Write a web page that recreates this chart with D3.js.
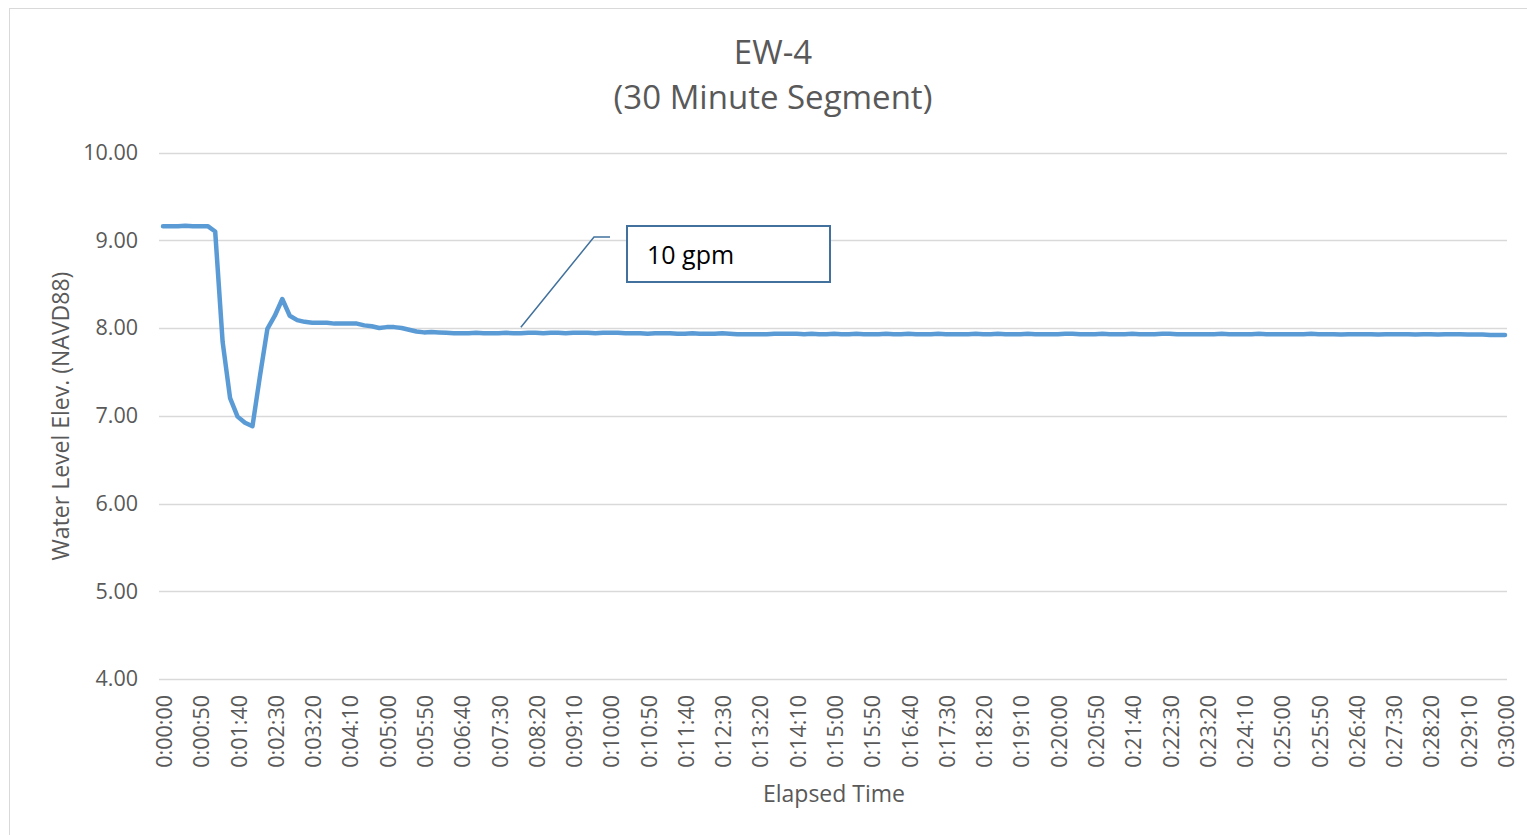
<!DOCTYPE html>
<html>
<head>
<meta charset="utf-8">
<script src="https://cdn.jsdelivr.net/npm/d3@7"></script>
<style>
  body { margin: 0; background: #fff; }
  svg { display: block; font-family: "Open Sans", sans-serif; }
  .ejes text { fill: #595959; }
</style>
</head>
<body>
<div id="graf"></div>
<script>
// categorias del eje x (tiempo transcurrido, cada 10 s) y etiquetas visibles
const tickLabels = [
  "0:00:00", "0:00:50", "0:01:40", "0:02:30", "0:03:20", "0:04:10", "0:05:00",
  "0:05:50", "0:06:40", "0:07:30", "0:08:20", "0:09:10", "0:10:00", "0:10:50",
  "0:11:40", "0:12:30", "0:13:20", "0:14:10", "0:15:00", "0:15:50", "0:16:40",
  "0:17:30", "0:18:20", "0:19:10", "0:20:00", "0:20:50", "0:21:40", "0:22:30",
  "0:23:20", "0:24:10", "0:25:00", "0:25:50", "0:26:40", "0:27:30", "0:28:20",
  "0:29:10", "0:30:00"
]
const yTicks = [4, 5, 6, 7, 8, 9, 10]

// nivel de agua (NAVD88), un valor cada 10 s
const nivel = [
  9.16, 9.16, 9.16, 9.165, 9.16, 9.16, 9.16, 9.10, 7.84, 7.20,
  6.99, 6.92, 6.88, 7.45, 7.99, 8.14, 8.33, 8.14, 8.09, 8.07,
  8.06, 8.06, 8.06, 8.05, 8.05, 8.05, 8.05, 8.03, 8.02, 8.00,
  8.01, 8.01, 8.00, 7.98, 7.96, 7.95, 7.955, 7.95, 7.945, 7.94,
  7.94, 7.94, 7.945, 7.94, 7.94, 7.94, 7.945, 7.94, 7.94, 7.945,
  7.945, 7.94, 7.945, 7.945, 7.94, 7.945, 7.945, 7.945, 7.94, 7.945,
  7.945, 7.945, 7.94, 7.94, 7.94, 7.935, 7.94, 7.94, 7.94, 7.935,
  7.935, 7.94, 7.935, 7.935, 7.935, 7.94, 7.935, 7.93, 7.93, 7.93,
  7.93, 7.93, 7.935, 7.935, 7.935, 7.935, 7.93, 7.935, 7.93, 7.93,
  7.935, 7.93, 7.93, 7.935, 7.93, 7.93, 7.93, 7.935, 7.93, 7.93,
  7.935, 7.93, 7.93, 7.93, 7.935, 7.93, 7.93, 7.93, 7.93, 7.935,
  7.93, 7.93, 7.935, 7.93, 7.93, 7.93, 7.935, 7.93, 7.93, 7.93,
  7.93, 7.935, 7.935, 7.93, 7.93, 7.93, 7.935, 7.93, 7.93, 7.93,
  7.935, 7.93, 7.93, 7.93, 7.935, 7.935, 7.93, 7.93, 7.93, 7.93,
  7.93, 7.93, 7.935, 7.93, 7.93, 7.93, 7.93, 7.935, 7.93, 7.93,
  7.93, 7.93, 7.93, 7.93, 7.935, 7.93, 7.93, 7.93, 7.925, 7.93,
  7.93, 7.93, 7.93, 7.925, 7.93, 7.93, 7.93, 7.93, 7.925, 7.93,
  7.93, 7.925, 7.93, 7.93, 7.93, 7.925, 7.925, 7.925, 7.92, 7.92,
  7.92
]
const paso = 10 // segundos entre lecturas
const etiqueta = "10 gpm"
const tAnotacion = 480

const toSec = (s) => {
  const [h, m, ss] = s.split(":").map(Number)
  return h * 3600 + m * 60 + ss
}
const data = nivel.map((v, i) => ({ t: i * paso, v }))

const anchoTotal = 1527
const altoTotal = 835

const svg = d3.select("#graf")
  .append("svg")
  .attr("width", anchoTotal)
  .attr("height", altoTotal)

// marco del grafico
svg.append("rect")
  .attr("x", 9.5).attr("y", 8.5)
  .attr("width", 1530).attr("height", 840)
  .attr("fill", "#fff")
  .attr("stroke", "#d9d9d9")

const x = d3.scaleLinear().domain([0, 1800]).range([163, 1505])
const y = d3.scaleLinear().domain([4, 10]).range([679, 152.5])

// grilla horizontal
svg.append("g")
  .selectAll("line")
  .data(yTicks)
  .join("line")
  .attr("x1", 159).attr("x2", 1507)
  .attr("y1", (d) => Math.round(y(d)) + 0.5)
  .attr("y2", (d) => Math.round(y(d)) + 0.5)
  .attr("stroke", "#d9d9d9")
  .attr("stroke-width", 1.5)

// eje y
const yAxis = d3.axisLeft(y).tickValues(yTicks).tickFormat(d3.format(".2f")).tickSize(0).tickPadding(0)
svg.append("g")
  .attr("class", "ejes")
  .attr("transform", "translate(138,0)")
  .call(yAxis)
  .call((g) => g.select(".domain").remove())
  .selectAll("text")
  .attr("font-size", 21.5)
  .attr("font-family", "Open Sans")

// eje x
const xAxis = d3.axisBottom(x)
  .tickValues(tickLabels.map(toSec))
  .tickFormat((d, i) => tickLabels[i])
  .tickSize(0)
svg.append("g")
  .attr("class", "ejes")
  .attr("transform", "translate(0,679)")
  .call(xAxis)
  .call((g) => g.select(".domain").remove())
  .selectAll("text")
  .attr("font-size", 21.5)
  .attr("font-family", "Open Sans")
  .attr("text-anchor", "end")
  .attr("transform", "rotate(-90)")
  .attr("x", -16)
  .attr("y", 1)
  .attr("dy", "0.35em")

// linea de datos
const linea = d3.line().x((d) => x(d.t)).y((d) => y(d.v))
svg.append("path")
  .datum(data)
  .attr("d", linea)
  .attr("fill", "none")
  .attr("stroke", "#5b9bd5")
  .attr("stroke-width", 4.5)
  .attr("stroke-linejoin", "round")
  .attr("stroke-linecap", "round")

// titulo
const titulo = svg.append("text")
  .attr("text-anchor", "middle")
  .attr("fill", "#595959")
  .attr("font-size", 33)
titulo.append("tspan").attr("x", 773).attr("y", 64).text("EW-4")
titulo.append("tspan").attr("x", 773).attr("y", 109).text("(30 Minute Segment)")

// titulos de ejes
svg.append("text")
  .attr("x", 834).attr("y", 802)
  .attr("text-anchor", "middle")
  .attr("fill", "#595959")
  .attr("font-size", 23)
  .text("Elapsed Time")

svg.append("text")
  .attr("transform", "translate(69,416) rotate(-90)")
  .attr("text-anchor", "middle")
  .attr("fill", "#595959")
  .attr("font-size", 23)
  .text("Water Level Elev. (NAVD88)")

// anotacion
const dato = data.find((d) => d.t === tAnotacion)
const ax = x(dato.t)
const ay = y(dato.v) - 6
svg.append("polyline")
  .attr("points", `${ax},${ay} 594,237 610,237`)
  .attr("fill", "none")
  .attr("stroke", "#41719c")
  .attr("stroke-width", 1.5)

svg.append("rect")
  .attr("x", 627).attr("y", 226)
  .attr("width", 203).attr("height", 56)
  .attr("fill", "#fff")
  .attr("stroke", "#41719c")
  .attr("stroke-width", 2)

svg.append("text")
  .attr("x", 647).attr("y", 264)
  .attr("fill", "#000")
  .attr("font-size", 25)
  .text(etiqueta)
</script>
</body>
</html>
